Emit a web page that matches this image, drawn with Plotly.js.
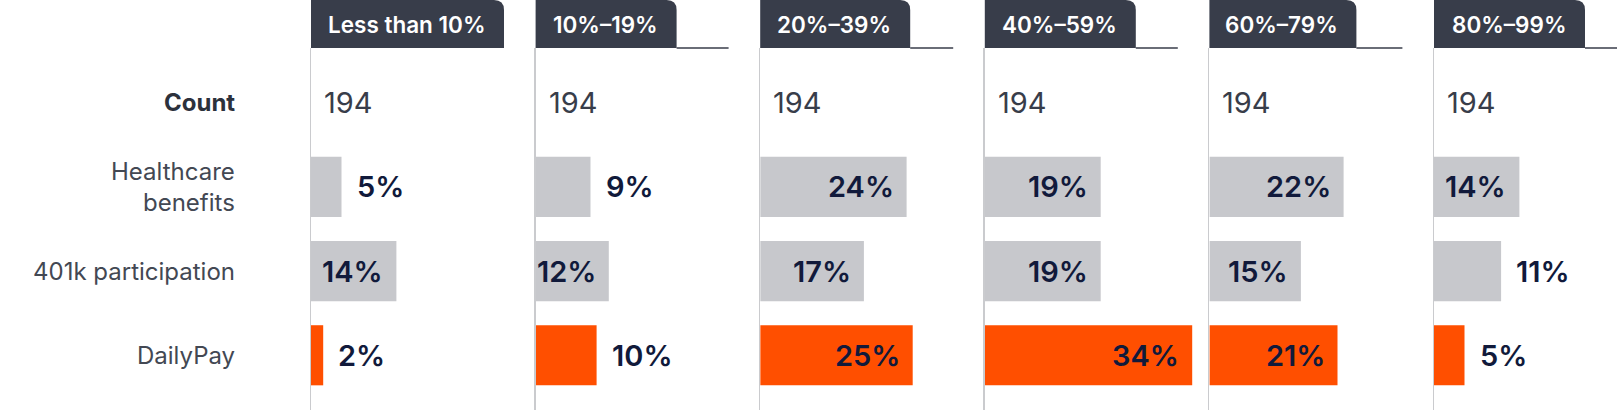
<!DOCTYPE html>
<html>
<head>
<meta charset="utf-8">
<script src="https://cdn.plot.ly/plotly-3.0.1.min.js"></script>
<style>
  html, body { margin: 0; padding: 0; background: #fff; }
  #chart { width: 1617px; height: 410px; }
</style>
</head>
<body>
<div id="chart"></div>
<script>
// rows (top to bottom) and column groups
var categories = ['Count', 'Healthcare<br>benefits', '401k participation', 'DailyPay'];
var groups = ['Less than 10%', '10%–19%', '20%–39%', '40%–59%', '60%–79%', '80%–99%'];

// values per group
var counts = [194, 194, 194, 194, 194, 194];
var healthcare = [5, 9, 24, 19, 22, 14];
var participation401k = [14, 12, 17, 19, 15, 11];
var dailypay = [2, 10, 25, 34, 21, 5];

// layout geometry (pixels)
var W = 1617, H = 410, TOP = 48;
var plotH = H - TOP;
var firstLeft = 311, step = 224.6, panelW = 193, domW = 210;
var pxPerPct = 6.1;
var tabW = [193, 141, 150, 151, 147, 151];
var tabH = 48, tabR = 10;
var insideMin = 12;   // labels go inside the bar from this value up

var GRAY = '#c7c8cc', ORANGE = '#ff4f00', DARK = '#383d4a', NAVY = '#111a3b';
var FONT = 'Inter, "Noto Sans", sans-serif';

var traces = [];
var annotations = [];
var shapes = [];
var layout = {
  width: W,
  height: H,
  margin: {l: 0, r: 0, t: TOP, b: 0},
  paper_bgcolor: '#fff',
  plot_bgcolor: 'rgba(0,0,0,0)',
  showlegend: false,
  hovermode: false,
  font: {family: FONT}
};

for (var i = 0; i < groups.length; i++) {
  var sfx = i === 0 ? '' : String(i + 1);
  var left = firstLeft + i * step;
  var right = Math.min(left + domW, W);
  var vals = [healthcare[i], participation401k[i], dailypay[i]];

  traces.push({
    type: 'bar',
    orientation: 'h',
    xaxis: 'x' + sfx,
    yaxis: 'y' + sfx,
    y: categories,
    x: [null].concat(vals),
    width: 0.714,
    marker: {color: ['rgba(0,0,0,0)', GRAY, GRAY, ORANGE], line: {width: 0}},
    hoverinfo: 'skip'
  });

  layout['xaxis' + sfx] = {
    domain: [left / W, right / W],
    range: [0, (right - left) / pxPerPct],
    anchor: 'y' + sfx,
    showgrid: false, zeroline: false, showline: false,
    showticklabels: false, ticks: '', fixedrange: true
  };
  layout['yaxis' + sfx] = {
    type: 'category',
    categoryorder: 'array',
    categoryarray: categories,
    range: [3.65, -0.65],
    anchor: 'x' + sfx,
    showgrid: false, zeroline: false,
    showline: true, linecolor: '#cacbce', linewidth: 1.5,
    showticklabels: false, ticks: '', fixedrange: true
  };

  // count row
  annotations.push({
    xref: 'x' + sfx, yref: 'y' + sfx,
    x: 0, y: categories[0],
    xanchor: 'left', yanchor: 'middle', xshift: 11,
    text: String(counts[i]), showarrow: false,
    font: {size: 29, color: DARK, family: FONT}
  });

  // percentage labels
  for (var j = 0; j < vals.length; j++) {
    var inside = vals[j] >= insideMin;
    annotations.push({
      xref: 'x' + sfx, yref: 'y' + sfx,
      x: vals[j], y: categories[j + 1],
      xanchor: inside ? 'right' : 'left', yanchor: 'middle',
      xshift: inside ? -11 : 13,
      text: vals[j] + '%', showarrow: false,
      font: {size: 29, color: NAVY, family: FONT, weight: 600}
    });
  }

  // header tab with rounded top-right corner
  var x0 = left / W, x1 = (left + tabW[i]) / W;
  var y0 = 1, y1 = 1 + tabH / plotH;
  var rx = tabR / W, ry = tabR / plotH;
  shapes.push({
    type: 'path', xref: 'paper', yref: 'paper',
    path: 'M' + x0 + ',' + y0 + ' L' + x0 + ',' + y1 + ' L' + (x1 - rx) + ',' + y1 +
          ' Q' + x1 + ',' + y1 + ' ' + x1 + ',' + (y1 - ry) + ' L' + x1 + ',' + y0 + ' Z',
    fillcolor: DARK, line: {width: 0}
  });
  if (tabW[i] < panelW) {
    shapes.push({
      type: 'line', xref: 'paper', yref: 'paper',
      x0: x1, x1: Math.min(left + panelW, W) / W, y0: 1, y1: 1,
      line: {color: DARK, width: 1.5}
    });
  }
  annotations.push({
    xref: 'paper', yref: 'paper',
    x: (left + tabW[i] / 2 - 1) / W, y: 1 + 23 / plotH,
    xanchor: 'center', yanchor: 'middle',
    text: groups[i], showarrow: false,
    font: {size: 22.5, color: '#ffffff', family: FONT, weight: 600}
  });
}

// row labels on the left
for (var k = 0; k < categories.length; k++) {
  annotations.push({
    xref: 'paper', yref: 'y',
    x: 237 / W, y: categories[k],
    xanchor: 'right', yanchor: 'middle', align: 'right',
    text: categories[k], showarrow: false,
    font: k === 0 ? {size: 24, color: '#2c313c', family: FONT, weight: 700}
                  : {size: 24, color: '#434853', family: FONT}
  });
}

layout.annotations = annotations;
layout.shapes = shapes;

Plotly.newPlot('chart', traces, layout, {displayModeBar: false, staticPlot: true});
</script>
</body>
</html>
